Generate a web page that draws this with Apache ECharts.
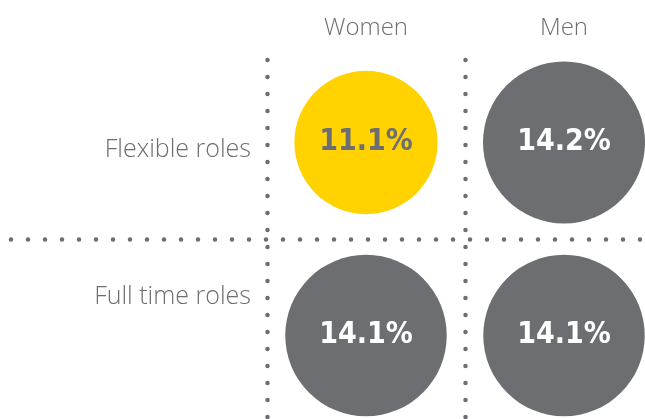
<!DOCTYPE html>
<html lang="en">
<head>
    <meta charset="UTF-8">
    <title>Flexible vs full time roles</title>
    <style>
        html, body { margin: 0; padding: 0; background: #fff; }
        #chart { width: 645px; height: 419px; }
    </style>
</head>
<body>
<div id="chart"></div>
<script src="https://cdn.jsdelivr.net/npm/echarts@6/dist/echarts.min.js"></script>
<script>
    // data
    const genders = ['Women', 'Men'];
    const roles = ['Flexible roles', 'Full time roles'];
    const women = [11.1, 14.1];
    const men = [14.2, 14.1];

    const yellow = '#FFD200';
    const grey = '#6D6E71';
    const textGrey = '#6D6E71';

    const dots = (showMin) => ({
        show: true,
        showMinLine: showMin,
        showMaxLine: false,
        interval: 0,
        lineStyle: { color: grey, width: 4.5, type: [0, 17], cap: 'round' }
    });

    // one point per cell, yellow for women in flexible roles
    const points = [];
    roles.forEach(function (role, r) {
        [women, men].forEach(function (vals, g) {
            const hi = g === 0 && r === 0;
            points.push({
                value: [genders[g], role, vals[r]],
                itemStyle: { color: hi ? yellow : grey, opacity: 1 },
                label: { color: hi ? grey : '#fff' }
            });
        });
    });

    const chart = echarts.init(document.getElementById('chart'));
    chart.setOption({
        animation: false,
        grid: [
            // horizontal dotted line across the whole width
            { left: 11, right: 0, top: 46, height: 386, outerBoundsMode: 'none' },
            // bubbles
            { left: 267, width: 396, top: 46, height: 386, outerBoundsMode: 'none' },
            // vertical dotted lines
            { left: 267, width: 396, top: 60, bottom: 0, outerBoundsMode: 'none' },
            // row labels
            { left: 267, width: 396, top: 77, height: 293, outerBoundsMode: 'none' }
        ],
        xAxis: [
            { gridIndex: 0, type: 'value', show: false },
            {
                gridIndex: 1, type: 'category', data: genders, position: 'top',
                axisLine: { show: false }, axisTick: { show: false }, splitLine: { show: false },
                axisLabel: { margin: 6, color: textGrey, fontSize: 24, fontFamily: 'Open Sans', fontWeight: 300 }
            },
            {
                gridIndex: 2, type: 'category', data: genders,
                axisLine: { show: false }, axisTick: { show: false }, axisLabel: { show: false },
                splitLine: dots(true)
            },
            { gridIndex: 3, type: 'category', data: genders, show: false }
        ],
        yAxis: [
            {
                gridIndex: 0, type: 'value', min: 0, max: 2, interval: 1,
                axisLine: { show: false }, axisTick: { show: false }, axisLabel: { show: false },
                splitLine: dots(false)
            },
            { gridIndex: 1, type: 'category', data: roles, inverse: true, show: false },
            { gridIndex: 2, type: 'value', show: false },
            {
                gridIndex: 3, type: 'category', data: roles, inverse: true,
                axisLine: { show: false }, axisTick: { show: false }, splitLine: { show: false },
                axisLabel: { margin: 16, color: textGrey, fontSize: 25, fontFamily: 'Open Sans', fontWeight: 300 }
            }
        ],
        series: [{
            type: 'scatter',
            xAxisIndex: 1,
            yAxisIndex: 1,
            symbol: 'circle',
            symbolSize: function (d) { return 43 * Math.sqrt(d[2]); },
            label: {
                show: true,
                position: 'inside',
                fontSize: 30,
                fontWeight: 'bold',
                fontFamily: 'DejaVu Sans Condensed',
                formatter: function (p) { return p.value[2].toFixed(1) + '%'; }
            },
            emphasis: { disabled: true },
            data: points
        }]
    });
</script>
</body>
</html>
